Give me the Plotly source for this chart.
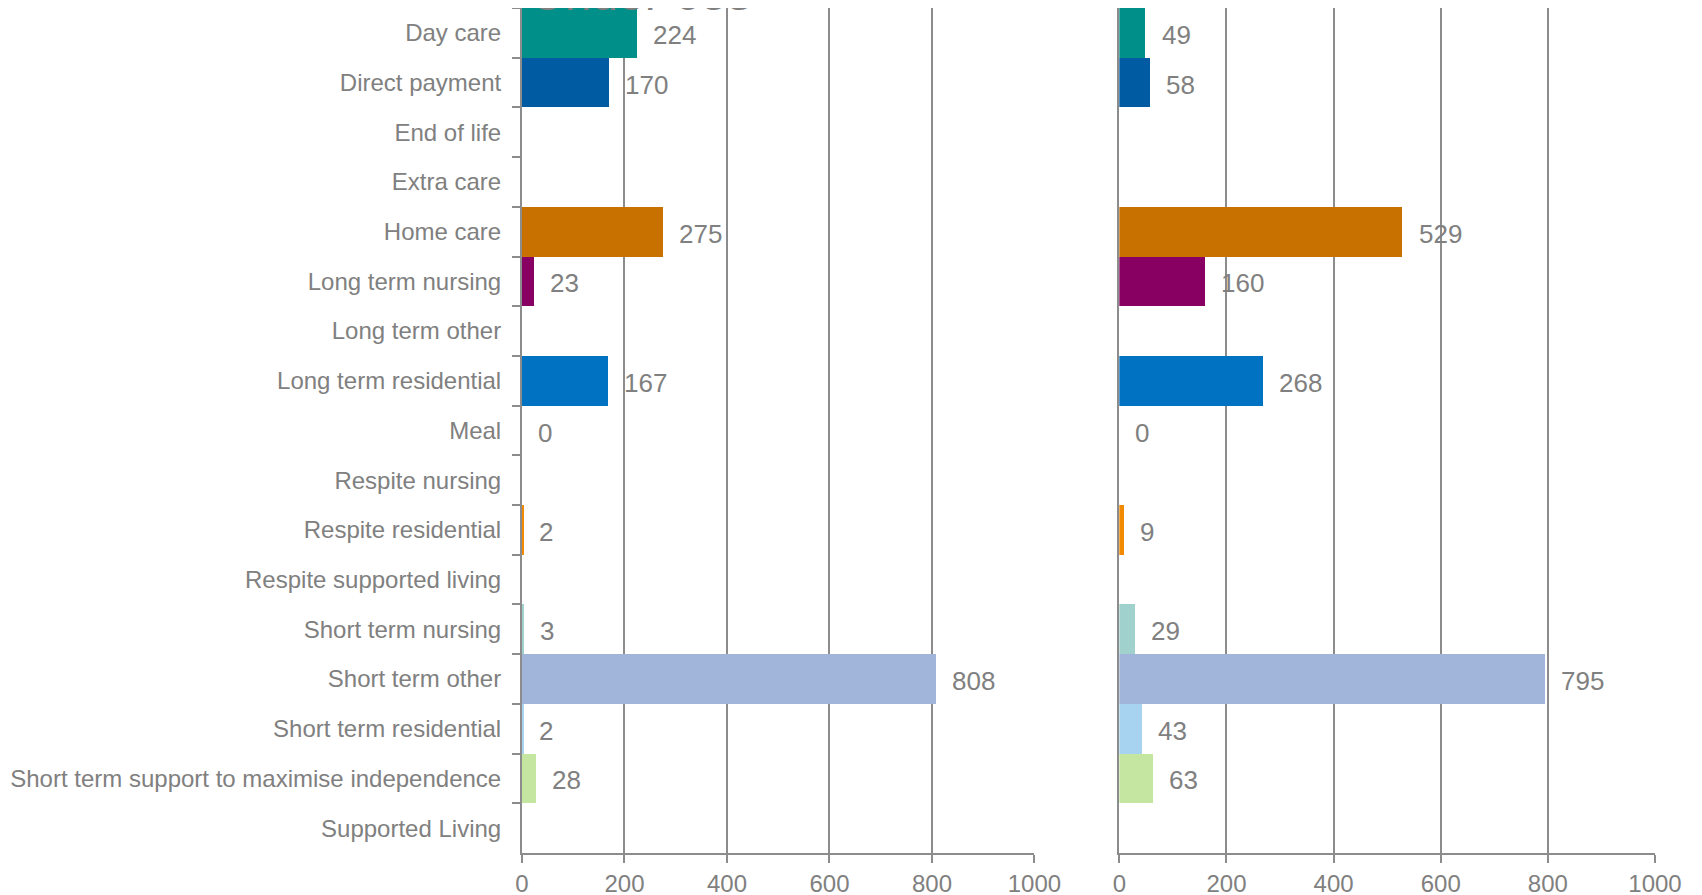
import plotly.graph_objects as go
from plotly.subplots import make_subplots

categories = [
    "Day care", "Direct payment", "End of life", "Extra care", "Home care",
    "Long term nursing", "Long term other", "Long term residential", "Meal",
    "Respite nursing", "Respite residential", "Respite supported living",
    "Short term nursing", "Short term other", "Short term residential",
    "Short term support to maximise independence", "Supported Living",
]
under_65 = [224, 170, None, None, 275, 23, None, 167, 0, None, 2, None, 3, 808, 2, 28, None]
over_65 = [49, 58, None, None, 529, 160, None, 268, 0, None, 9, None, 29, 795, 43, 63, None]
x_ticks = [0, 200, 400, 600, 800, 1000]

colours = [
    "#009089", "#005BA3", "#7F7F7F", "#7F7F7F", "#C87000",
    "#880061", "#7F7F7F", "#0072C2", "#7F7F7F",
    "#7F7F7F", "#F18A00", "#7F7F7F",
    "#A1D1CC", "#A1B4DA", "#A7D2F0",
    "#C5E6A1", "#7F7F7F",
]

GREY = "#808080"
LINE = "#8C8C8C"
FONT = "Liberation Sans, Arial, sans-serif"

fig = make_subplots(rows=1, cols=2, horizontal_spacing=0)

for col, values in [(1, under_65), (2, over_65)]:
    fig.add_trace(
        go.Bar(
            x=values, y=categories, orientation="h",
            marker=dict(color=colours, line_width=0),
            showlegend=False, hoverinfo="x+y",
        ),
        row=1, col=col,
    )
    xref = "x" if col == 1 else "x2"
    yref = "y" if col == 1 else "y2"
    for cat, v in zip(categories, values):
        if v is None:
            continue
        fig.add_annotation(
            x=v, y=cat, xref=xref, yref=yref, text=str(v), showarrow=False,
            xanchor="left", xshift=14, yshift=-2,
            font=dict(family=FONT, size=26, color=GREY),
        )

# chart title, mostly cut off at the top edge in the original
fig.add_annotation(
    x=0.1047, y=1, xref="paper", yref="paper", text="Under 65s", showarrow=False,
    xanchor="center", yanchor="bottom", yshift=-14,
    font=dict(family=FONT, size=48, color=GREY),
)

axis_common = dict(
    range=[0, 1000], tickvals=x_ticks, showgrid=True, gridcolor=LINE, gridwidth=2,
    showline=True, linecolor=LINE, linewidth=2, ticks="outside", ticklen=8,
    tickcolor=LINE, tickwidth=2, zeroline=False, ticklabelstandoff=0,
    tickfont=dict(family=FONT, size=24, color=GREY), automargin=False,
)
fig.update_xaxes(domain=[0, 0.4523], **axis_common, row=1, col=1)
fig.update_xaxes(domain=[0.5272, 1], **axis_common, row=1, col=2)

fig.update_yaxes(
    categoryorder="array", categoryarray=categories, autorange="reversed",
    showline=True, linecolor=LINE, linewidth=2, showgrid=False, automargin=False,
)
fig.update_yaxes(
    ticks="outside", tickson="boundaries", ticklen=8, tickcolor=LINE, tickwidth=2,
    ticklabelstandoff=14, tickfont=dict(family=FONT, size=24, color=GREY),
    row=1, col=1,
)
fig.update_yaxes(showticklabels=False, ticks="", row=1, col=2)

fig.update_layout(
    width=1694, height=887,
    margin=dict(l=514, r=47, t=0, b=42),
    bargap=0,
    plot_bgcolor="white", paper_bgcolor="white",
)

fig.write_html("out.html")
